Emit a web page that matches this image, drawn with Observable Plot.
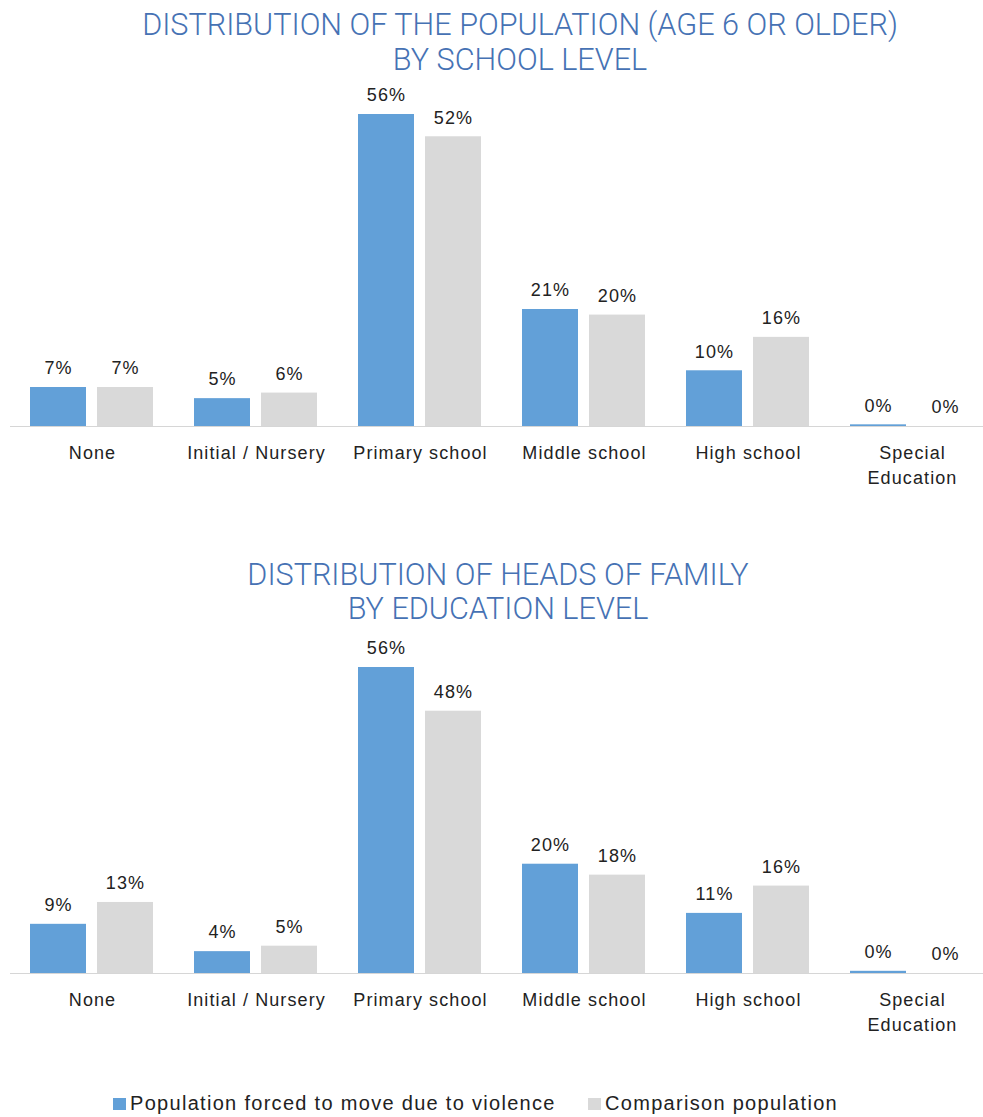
<!DOCTYPE html>
<html>
<head>
<meta charset="utf-8">
<script src="https://cdn.jsdelivr.net/npm/d3@7"></script>
<script src="https://cdn.jsdelivr.net/npm/@observablehq/plot@0.6"></script>
<style>
  html, body { margin: 0; padding: 0; background: #fff; overflow: hidden; }
  body { width: 983px; height: 1117px; position: relative; font-family: "Liberation Sans", Arial, sans-serif; }
  .title { position: absolute; text-align: center; font-family: Roboto, "Liberation Sans", sans-serif; font-weight: 300; font-size: 30.6px; color: #4672b4; white-space: pre; }
  .chart { position: absolute; left: 0; }
  .chart svg text { letter-spacing: 1.1px; }
  .legend-item { position: absolute; display: flex; align-items: center; font-size: 20px; letter-spacing: 1.3px; color: #222; }
  .swatch { width: 13px; height: 12px; margin-right: 4px; }
</style>
</head>
<body>
<div class="title" id="t1" style="top:7px; left:0; width:1040px; line-height:35px;"></div>
<div class="chart" id="c1" style="top:78px;"></div>
<div class="title" id="t2" style="top:558px; left:0; width:996px; line-height:34px;"></div>
<div class="chart" id="c2" style="top:630px;"></div>
<div id="legend"></div>
<script>
const categories = ["None", "Initial / Nursery", "Primary school", "Middle school", "High school", "Special Education"];
const categoryLabels = ["None", "Initial / Nursery", "Primary school", "Middle school", "High school", "Special\nEducation"];
const series = ["Population forced to move due to violence", "Comparison population"];
const colors = ["#62a0d8", "#d9d9d9"];

const title1 = "DISTRIBUTION OF THE POPULATION (AGE 6 OR OLDER)\nBY SCHOOL LEVEL";
const forced1 = [7, 5, 56, 21, 10, 0.3];
const comparison1 = [7, 6, 52, 20, 16, 0];

const title2 = "DISTRIBUTION OF HEADS OF FAMILY\nBY EDUCATION LEVEL";
const forced2 = [9, 4, 56, 20, 11, 0.4];
const comparison2 = [13, 5, 48, 18, 16, 0];

function makeChart(forced, comparison, height, marginTop, marginBottom) {
  const data = categories.flatMap((c, i) => [
    {category: c, series: series[0], value: forced[i]},
    {category: c, series: series[1], value: comparison[i]}
  ]);
  const labels = categories.map((c, i) => ({category: c, label: categoryLabels[i]}));
  return Plot.plot({
    width: 983,
    height,
    marginTop,
    marginBottom,
    marginLeft: 8,
    marginRight: -12,
    style: {fontFamily: "'Liberation Sans', Arial, sans-serif", overflow: "visible", background: "transparent"},
    fx: {domain: categories, padding: 0, axis: null},
    x: {domain: series, paddingInner: 0.16, paddingOuter: 0.29, axis: null},
    y: {domain: [0, 56], axis: null},
    color: {domain: series, range: colors},
    marks: [
      Plot.barY(data, {fx: "category", x: "series", y: "value", fill: "series"}),
      Plot.ruleY([0], {stroke: "#d6d6d6", strokeWidth: 1.2}),
      Plot.text(data, {fx: "category", x: "series", y: "value", text: d => Math.round(d.value) + "%", dy: -19, fontSize: 18, fill: "#222"}),
      Plot.text(labels, {fx: "category", frameAnchor: "bottom", text: "label", lineAnchor: "top", dy: 15, fontSize: 18, lineHeight: 1.38, fill: "#222"})
    ]
  });
}

document.getElementById("t1").textContent = title1;
document.getElementById("t2").textContent = title2;
document.getElementById("c1").appendChild(makeChart(forced1, comparison1, 422, 36, 74));
document.getElementById("c2").appendChild(makeChart(forced2, comparison2, 430, 37, 87));

const legend = document.getElementById("legend");
const legendLefts = [113, 588];
series.forEach((s, i) => {
  const item = document.createElement("div");
  item.className = "legend-item";
  item.style.left = legendLefts[i] + "px";
  item.style.top = "1092px";
  const sw = document.createElement("span");
  sw.className = "swatch";
  sw.style.background = colors[i];
  const tx = document.createElement("span");
  tx.textContent = s;
  item.appendChild(sw);
  item.appendChild(tx);
  legend.appendChild(item);
});
</script>
</body>
</html>
